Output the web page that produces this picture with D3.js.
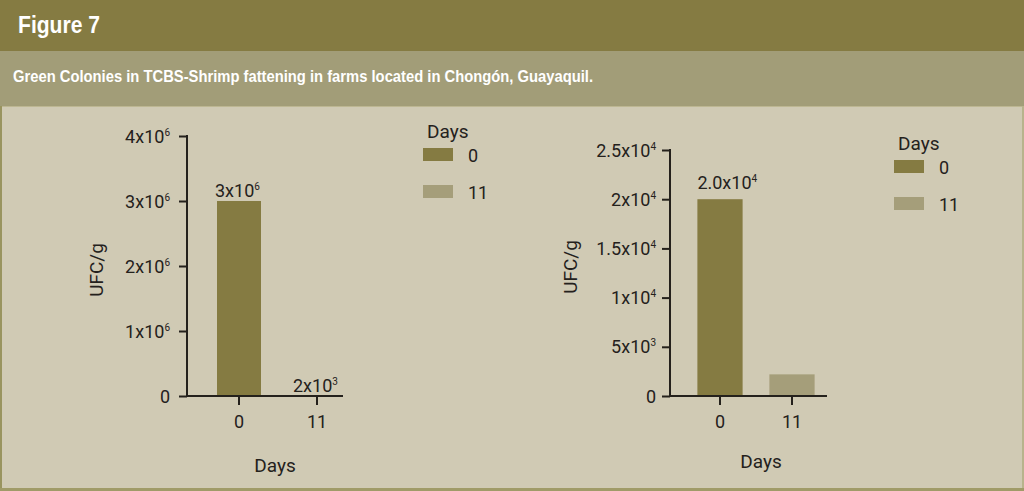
<!DOCTYPE html>
<html><head><meta charset="utf-8">
<script src="https://cdn.jsdelivr.net/npm/d3@7"></script>
<style>body{margin:0;background:#d0cab4;}svg{display:block;}</style>
</head><body>
<svg id="c" width="1024" height="491"></svg>
<script>
const categories = ["0", "11"];
const leftValues = [3e6, 2e3];
const rightValues = [2.0e4, 2.2e3];
const leftTicks = [0, 1e6, 2e6, 3e6, 4e6];
const leftTickLabels = ["0", "1x10^6", "2x10^6", "3x10^6", "4x10^6"];
const rightTicks = [0, 5e3, 1e4, 1.5e4, 2e4, 2.5e4];
const rightTickLabels = ["0", "5x10^3", "1x10^4", "1.5x10^4", "2x10^4", "2.5x10^4"];
const leftValueLabels = ["3x10^6", "2x10^3"];
const rightValueLabels = ["2.0x10^4", ""];
const title = "Figure 7";
const subtitle = "Green Colonies in TCBS-Shrimp fattening in farms located in Chongón, Guayaquil.";
const legendTitle = "Days";
const xTitle = "Days";
const yTitle = "UFC/g";

const colors = ["#857b42", "#a59e7a"];
const ink = "#24211c";
const font = "Roboto, 'Liberation Sans', sans-serif";

const svg = d3.select("#c");
svg.append("rect").attr("x",0).attr("y",0).attr("width",1024).attr("height",491).attr("fill","#d0cab4");
svg.append("rect").attr("x",0).attr("y",0).attr("width",1024).attr("height",51).attr("fill","#857b42");
svg.append("rect").attr("x",0).attr("y",51).attr("width",1024).attr("height",55).attr("fill","#a29d78");
svg.append("line").attr("x1",0).attr("x2",1024).attr("y1",106.5).attr("y2",106.5).attr("stroke","#bdb792").attr("stroke-width",1);
svg.append("rect").attr("x",0).attr("y",106).attr("width",2).attr("height",385).attr("fill","#99945f");
svg.append("rect").attr("x",1022).attr("y",106).attr("width",2).attr("height",385).attr("fill","#b8b38c");
svg.append("rect").attr("x",0).attr("y",488).attr("width",1024).attr("height",3).attr("fill","#a09b68");

svg.append("text").attr("x",18).attr("y",33).attr("fill","#ffffff")
  .attr("textLength",82).attr("lengthAdjust","spacingAndGlyphs")
  .style("font-family","'Liberation Sans', Arial, sans-serif").style("font-weight","bold").style("font-size","23px")
  .text(title);
svg.append("text").attr("x",13).attr("y",82).attr("fill","#ffffff")
  .attr("textLength",580).attr("lengthAdjust","spacingAndGlyphs")
  .style("font-family","'Liberation Sans', sans-serif").style("font-weight","bold").style("font-size","16px")
  .text(subtitle);

function supText(sel, str, supSize, supDy) {
  const parts = str.split("^");
  sel.append("tspan").text(parts[0]);
  if (parts.length > 1) {
    sel.append("tspan").attr("dy", supDy).style("font-size", supSize + "px").text(parts[1]);
  }
}

function drawChart(cfg) {
  const g = svg.append("g");
  const y = d3.scaleLinear().domain(cfg.domain).range([cfg.y0, cfg.yTop]);
  const x = d3.scaleBand().domain(categories).range(cfg.xRange)
    .paddingInner(cfg.pi).paddingOuter(cfg.po);

  g.selectAll("rect.bar").data(cfg.values).join("rect").attr("class","bar")
    .attr("x",(d,i)=>x(categories[i])).attr("width",x.bandwidth())
    .attr("y",d=>y(d)).attr("height",d=>cfg.y0 - y(d))
    .attr("fill",(d,i)=>colors[i]);

  const yAxis = d3.axisLeft(y).tickValues(cfg.ticks).tickSize(8).tickPadding(cfg.tickPad).tickFormat("");
  const ya = g.append("g").attr("transform",`translate(${cfg.axisX},0)`).call(yAxis);
  ya.select(".domain").remove();
  ya.selectAll(".tick line").attr("stroke",ink).attr("stroke-width",2);
  ya.append("line").attr("x1",0).attr("x2",0).attr("y1",cfg.yTop-1).attr("y2",cfg.y0+1).attr("stroke",ink).attr("stroke-width",2);
  ya.selectAll(".tick").each(function(d,i){
    const t = d3.select(this).append("text").attr("x",-(8+cfg.tickPad)).attr("dy","0.34em")
      .attr("text-anchor","end").attr("fill",ink)
      .style("font-family",font).style("font-size","18px");
    supText(t, cfg.tickLabels[i], 10, -7);
  });

  const xAxis = d3.axisBottom(x).tickSize(9).tickFormat("");
  const xa = g.append("g").attr("transform",`translate(0,${cfg.y0})`).call(xAxis);
  xa.select(".domain").remove();
  xa.selectAll(".tick line").attr("stroke",ink).attr("stroke-width",2);
  xa.append("line").attr("x1",cfg.axisX-1).attr("x2",cfg.xEnd).attr("y1",0).attr("y2",0).attr("stroke",ink).attr("stroke-width",2);
  xa.selectAll(".tick").append("text").attr("y",32).attr("text-anchor","middle").attr("fill",ink)
    .style("font-family",font).style("font-size","18px").text(d=>d);

  cfg.valueLabels.forEach((lab,i)=>{
    if (!lab) return;
    const t = g.append("text").attr("x",x(categories[i]) + cfg.labDx)
      .attr("y",y(cfg.values[i]) - cfg.labGap).attr("fill",ink)
      .style("font-family",font).style("font-size","18px");
    supText(t, lab, 10, -7);
  });

  g.append("text").attr("x",cfg.xTitleX).attr("y",cfg.xTitleY).attr("text-anchor","middle").attr("fill",ink)
    .style("font-family",font).style("font-size","19px").text(xTitle);
  g.append("text").attr("transform",`translate(${cfg.yTitleX},${cfg.yTitleY}) rotate(-90)`)
    .attr("text-anchor","middle").attr("fill",ink)
    .style("font-family",font).style("font-size","19px").text(yTitle);

  const lg = g.append("g").attr("transform",`translate(${cfg.legX},${cfg.legY})`);
  lg.append("text").attr("x",4).attr("y",0).attr("fill",ink)
    .style("font-family",font).style("font-size","19px").text(legendTitle);
  categories.forEach((c,i)=>{
    lg.append("rect").attr("x",0).attr("y",10 + i*37).attr("width",30).attr("height",13).attr("fill",colors[i]);
    lg.append("text").attr("x",45).attr("y",24 + i*37).attr("fill",ink)
      .style("font-family",font).style("font-size","18px").text(c);
  });
}

drawChart({
  values: leftValues, domain:[0,4e6], y0:396, yTop:136, ticks:leftTicks, tickLabels:leftTickLabels,
  xRange:[200,356], pi:0.436, po:0.218, axisX:187, xEnd:343, tickPad:9,
  valueLabels:leftValueLabels, labDx:-2, labGap:4,
  xTitleX:275, xTitleY:472, yTitleX:103, yTitleY:270, legX:423, legY:138
});
drawChart({
  values: rightValues, domain:[0,2.5e4], y0:396, yTop:150, ticks:rightTicks, tickLabels:rightTickLabels,
  xRange:[684,828], pi:0.372, po:0.186, axisX:670, xEnd:827, tickPad:6,
  valueLabels:rightValueLabels, labDx:0, labGap:10,
  xTitleX:761, xTitleY:468, yTitleX:577, yTitleY:267, legX:894, legY:150
});
</script>
</body></html>
